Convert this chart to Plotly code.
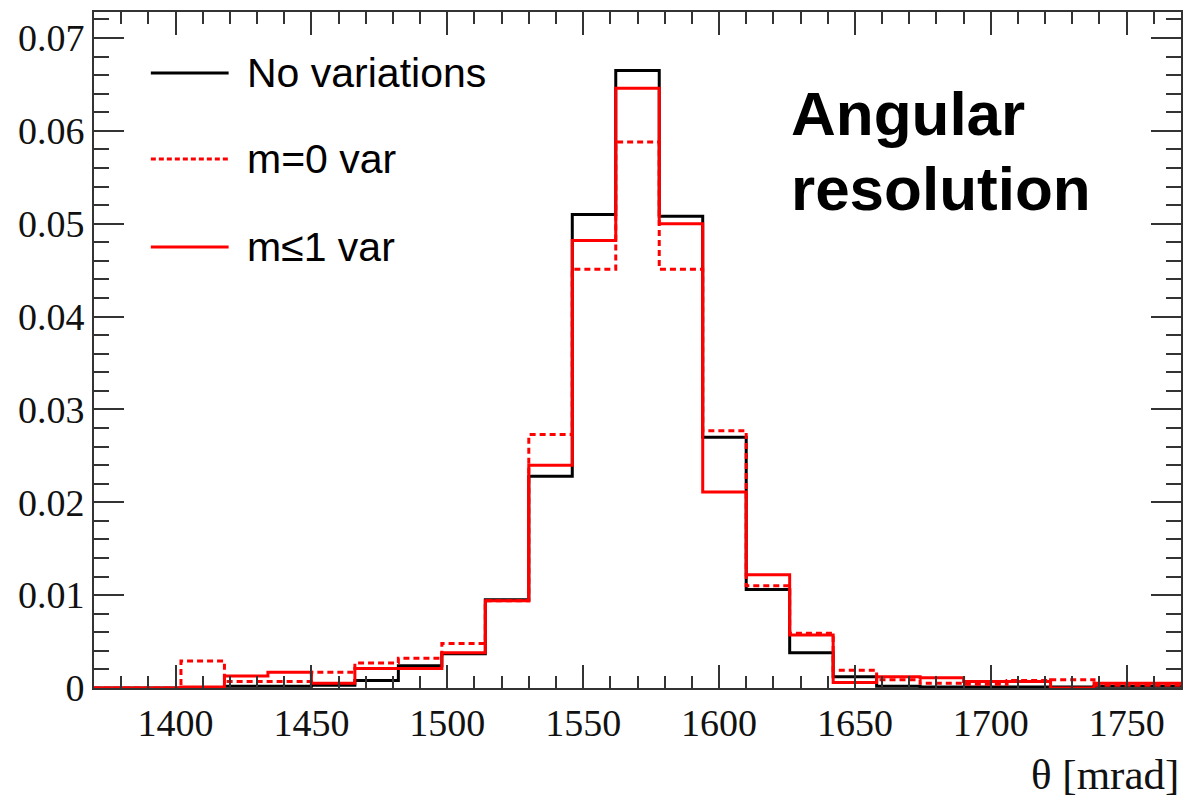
import plotly.graph_objects as go

# ---- data ----
bin_edges = [1370 + 16 * i for i in range(26)]
no_var = [0, 0, 0, 0.0002, 0.0002, 0.0003, 0.0008, 0.0024, 0.0037, 0.0095,
          0.0228, 0.0510, 0.0665, 0.0508, 0.0270, 0.0106, 0.0038, 0.0012,
          0.0002, 0.0001, 0.0001, 0.0001, 0.0001, 0.0002, 0.0002]
m0_var = [0, 0, 0.0029, 0.0007, 0.0007, 0.0017, 0.0027, 0.0032, 0.0048, 0.0094,
          0.0273, 0.0451, 0.0588, 0.0451, 0.0277, 0.0110, 0.0059, 0.0019,
          0.0009, 0.0005, 0.0004, 0.0008, 0.0009, 0.0003, 0.0003]
m1_var = [0, 0, 0.0001, 0.0013, 0.0017, 0.0005, 0.0021, 0.0021, 0.0038, 0.0094,
          0.0240, 0.0482, 0.0646, 0.0500, 0.0211, 0.0122, 0.0057, 0.0006,
          0.0012, 0.0011, 0.0007, 0.0007, 0.0, 0.0005, 0.0005]
legend_labels = ["No variations", "m=0 var", "m≤1 var"]

AX = "#333333"
SERIF = "Liberation Serif, Times New Roman, serif"
SANS = "Liberation Sans, Arial, sans-serif"
DOT = "6px,4px"

fig = go.Figure()

def add_hist(vals, color, dash):
    fig.add_trace(go.Scatter(
        x=bin_edges, y=vals + [vals[-1]], mode="lines", line_shape="hv",
        line=dict(color=color, width=3, dash=dash), showlegend=False,
        hoverinfo="skip"))

add_hist(no_var, "black", "solid")
add_hist(m0_var, "#ff0000", DOT)
add_hist(m1_var, "#ff0000", "solid")

axis_common = dict(
    showgrid=False, zeroline=False, showline=True, linecolor=AX, linewidth=2,
    mirror="allticks", ticks="inside", tickcolor=AX, tickwidth=2,
    tickfont=dict(family=SERIF, size=38, color="#111"),
)
fig.update_xaxes(range=[1370, 1770], dtick=50, tick0=1400, ticklen=23,
                 minor=dict(dtick=10, ticks="inside", ticklen=12,
                            tickcolor=AX, tickwidth=1.5),
                 **axis_common)
fig.update_yaxes(range=[0, 0.0728], dtick=0.01, tick0=0, ticklen=30,
                 minor=dict(dtick=0.002, ticks="inside", ticklen=15,
                            tickcolor=AX, tickwidth=1.5),
                 **axis_common)

# legend drawn manually
leg_y = [73, 159, 247]
styles = [("black", "solid"), ("#ff0000", "5px,3px"), ("#ff0000", "solid")]
for (col, dsh), yy, lab in zip(styles, leg_y, legend_labels):
    fig.add_shape(type="line", xref="paper", yref="paper",
                  x0=(150 - 93) / 1090, x1=(228 - 93) / 1090,
                  y0=(688 - yy) / 676, y1=(688 - yy) / 676,
                  line=dict(color=col, width=3, dash=dsh))
    fig.add_annotation(text=lab, xref="paper", yref="paper",
                       x=(244 - 93) / 1090, y=(688 - yy) / 676,
                       xanchor="left", yanchor="middle", showarrow=False,
                       font=dict(family=SANS, size=41, color="black"))

fig.add_annotation(text="<b>Angular</b>", xref="paper", yref="paper",
                   x=(790 - 93) / 1090, y=(688 - 113) / 676,
                   xanchor="left", yanchor="middle", showarrow=False,
                   font=dict(family=SANS, size=62, color="black"))
fig.add_annotation(text="<b>resolution</b>", xref="paper", yref="paper",
                   x=(790 - 93) / 1090, y=(688 - 189) / 676,
                   xanchor="left", yanchor="middle", showarrow=False,
                   font=dict(family=SANS, size=62, color="black"))

fig.add_annotation(text="θ [mrad]", xref="paper", yref="paper",
                   x=1.0, y=(688 - 774) / 676, xanchor="right",
                   yanchor="middle", showarrow=False,
                   font=dict(family=SERIF, size=43, color="#111"))

fig.update_layout(width=1187, height=803,
                  margin=dict(l=94, r=4, t=12, b=115),
                  paper_bgcolor="white", plot_bgcolor="white")

fig.write_html("out.html")
